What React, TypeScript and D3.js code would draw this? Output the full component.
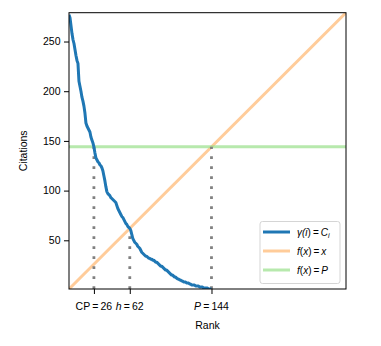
import * as d3 from 'd3';
import React, { useEffect, useRef } from 'react';

// citations of each paper, sorted from most cited down (rank 1..144)
const citations = [
  277, 274, 266, 258, 252, 248, 242, 236, 231, 228,
  210, 205, 200, 194, 190, 185, 178, 168, 165, 163,
  161, 159, 154, 151, 148, 144, 138, 133, 131, 129,
  128, 126, 125, 123, 120, 115, 110, 104, 99, 97,
  96, 95, 93, 92, 91, 90, 89, 88, 85, 82,
  80, 78, 76, 74, 73, 71, 69, 67, 66, 64,
  63, 62, 60, 56, 52, 50, 48, 47, 46, 44,
  43, 42, 40, 38, 37, 36, 35, 34, 34, 33,
  32, 32, 31, 31, 30, 30, 29, 28, 28, 27,
  26, 25, 24, 24, 23, 22, 21, 20, 20, 19,
  18, 17, 16, 15, 15, 14, 13, 13, 12, 11,
  11, 10, 10, 9, 9, 8, 8, 8, 7, 7,
  7, 6, 6, 5, 5, 5, 5, 4, 4, 4,
  4, 3, 3, 3, 3, 2, 2, 2, 2, 2,
  1, 1, 1, 1,
];

const yTicks = [50, 100, 150, 200, 250];
const CP = 26;
const H = 62;
const P = 144;
const axisMin = 1;
const axisMax = 279;

const FONT = "'Liberation Sans', Arial, Helvetica, sans-serif";

function RankChart() {
  const chartRef = useRef<SVGSVGElement | null>(null);

  useEffect(() => {
    const svg = d3.select(chartRef.current);
    svg.selectAll("*").remove();

    const margin = { left: 69, top: 12.7, right: 35, bottom: 57 };
    const plotW = 277;
    const plotH = 276.3;

    const x = d3.scaleLinear().domain([axisMin, axisMax]).range([margin.left, margin.left + plotW]);
    const y = d3.scaleLinear().domain([axisMin, axisMax]).range([margin.top + plotH, margin.top]);

    const g = svg.append("g");

    // clip so the lines stay inside the frame
    svg.append("defs").append("clipPath").attr("id", "plotclip")
      .append("rect")
      .attr("x", margin.left).attr("y", margin.top)
      .attr("width", plotW).attr("height", plotH);

    const plot = g.append("g").attr("clip-path", "url(#plotclip)");

    // f(x) = x
    plot.append("line")
      .attr("x1", x(axisMin)).attr("y1", y(axisMin))
      .attr("x2", x(axisMax)).attr("y2", y(axisMax))
      .attr("stroke", "#ffbb78").attr("stroke-opacity", 0.75)
      .attr("stroke-width", 3);

    // f(x) = P
    plot.append("line")
      .attr("x1", x(axisMin)).attr("y1", y(P))
      .attr("x2", x(axisMax)).attr("y2", y(P))
      .attr("stroke", "#98df8a").attr("stroke-opacity", 0.7)
      .attr("stroke-width", 3);

    // dotted markers
    const markers = [
      { at: CP, top: P },
      { at: H, top: H },
      { at: P, top: P },
    ];
    markers.forEach(m => {
      plot.append("line")
        .attr("x1", x(m.at)).attr("x2", x(m.at))
        .attr("y1", y(axisMin)).attr("y2", y(m.top))
        .attr("stroke", "#808080")
        .attr("stroke-width", 2.8)
        .attr("stroke-dasharray", "2.8 7.2");
    });

    // rank/citation curve
    const line = d3.line<number>()
      .x((d, i) => x(i + 1))
      .y(d => y(d));
    plot.append("path")
      .datum(citations)
      .attr("d", line)
      .attr("fill", "none")
      .attr("stroke", "#1f77b4")
      .attr("stroke-width", 3)
      .attr("stroke-linejoin", "round");

    // frame
    g.append("rect")
      .attr("x", margin.left).attr("y", margin.top)
      .attr("width", plotW).attr("height", plotH)
      .attr("fill", "none").attr("stroke", "#000").attr("stroke-width", 1);

    // y axis
    const yAxis = g.append("g")
      .attr("transform", `translate(${margin.left},0)`)
      .call(d3.axisLeft(y).tickValues(yTicks).tickSize(5).tickPadding(3.5));
    yAxis.select(".domain").remove();
    yAxis.selectAll("line").attr("stroke", "#000");
    yAxis.selectAll("text")
      .attr("fill", "#000")
      .style("font-family", FONT)
      .style("font-size", "10.5px");

    // x axis ticks
    const xAxis = g.append("g")
      .attr("transform", `translate(0,${margin.top + plotH})`)
      .call(d3.axisBottom(x).tickValues([CP, H, P]).tickSize(5).tickFormat(() => ""));
    xAxis.select(".domain").remove();
    xAxis.selectAll("line").attr("stroke", "#000");

    const xLabels = [
      { at: CP, name: "CP", italic: false, value: CP },
      { at: H, name: "h", italic: true, value: H },
      { at: P, name: "P", italic: true, value: P },
    ];
    xLabels.forEach(l => {
      const t = g.append("text")
        .attr("x", x(l.at))
        .attr("y", 309.5)
        .attr("text-anchor", "middle")
        .style("font-family", FONT)
        .style("font-size", "10.5px");
      t.append("tspan").style("font-style", l.italic ? "italic" : "normal").text(l.name);
      t.append("tspan").text("\u2009=\u2009");
      t.append("tspan").text(String(l.value));
    });

    // axis labels
    g.append("text")
      .attr("x", margin.left + plotW / 2)
      .attr("y", 329)
      .attr("text-anchor", "middle")
      .style("font-family", FONT)
      .style("font-size", "10.5px")
      .text("Rank");

    g.append("text")
      .attr("transform", `translate(27,${margin.top + plotH / 2}) rotate(-90)`)
      .attr("text-anchor", "middle")
      .style("font-family", FONT)
      .style("font-size", "10.5px")
      .text("Citations");

    // legend
    const legend = g.append("g").attr("transform", "translate(260,221.5)");
    legend.append("rect")
      .attr("width", 80).attr("height", 62)
      .attr("rx", 2.5)
      .attr("fill", "#fff").attr("fill-opacity", 0.8)
      .attr("stroke", "#d5d5d5").attr("stroke-width", 1);

    const entries = [
      { color: "#1f77b4", opacity: 1, parts: [["γ(", true], ["i", true], [")\u2009=\u2009", false], ["C", true], ["i", true, true]] },
      { color: "#ffbb78", opacity: 0.75, parts: [["f", true], ["(", false], ["x", true], [")\u2009=\u2009", false], ["x", true]] },
      { color: "#98df8a", opacity: 0.7, parts: [["f", true], ["(", false], ["x", true], [")\u2009=\u2009", false], ["P", true]] },
    ];
    entries.forEach((e, i) => {
      const cy = 10.5 + i * 19;
      legend.append("line")
        .attr("x1", 3).attr("x2", 30)
        .attr("y1", cy).attr("y2", cy)
        .attr("stroke", e.color).attr("stroke-opacity", e.opacity)
        .attr("stroke-width", 3);
      const t = legend.append("text")
        .attr("x", 37)
        .attr("y", cy + 3.5)
        .style("font-family", FONT)
        .style("font-size", "10px");
      e.parts.forEach(p => {
        const span = t.append("tspan")
          .style("font-style", p[1] ? "italic" : "normal")
          .text(p[0] as string);
        if (p[2]) {
          span.attr("dy", 2).style("font-size", "7px");
        }
      });
    });
  }, []);

  return <svg ref={chartRef} width={381} height={346} style={{ display: "block" }} />;
}

export default function App() {
  return (
    <div style={{ margin: -8 }}>
      <RankChart />
    </div>
  );
}
